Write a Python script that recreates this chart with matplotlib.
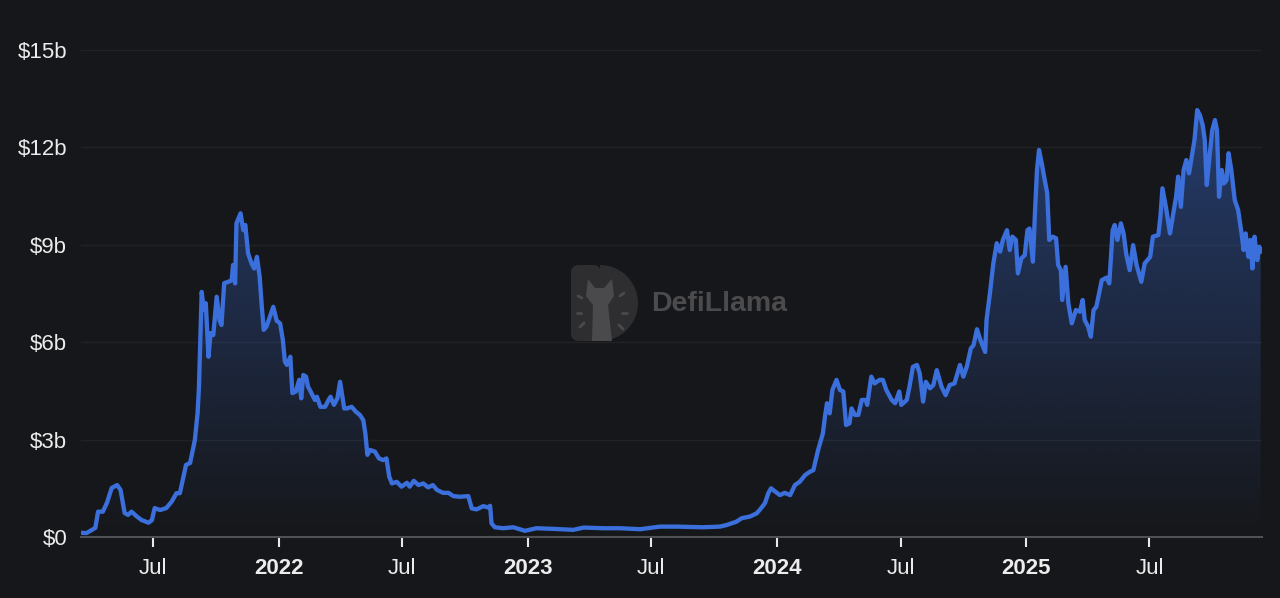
import numpy as np
import pandas as pd
import matplotlib
matplotlib.use("Agg")
import matplotlib.pyplot as plt
import matplotlib.dates as mdates
from matplotlib.patches import PathPatch, Polygon, FancyBboxPatch, Wedge

# --- data: days since 2021-03-18, value in $b ---
start_date = pd.Timestamp("2021-03-18")
days = [
    0, 7, 20, 24, 31, 37, 44, 52, 57, 63, 68, 73, 81, 88, 98, 103, 107, 115, 124, 132,
    139, 144, 153, 159, 166, 170, 172, 176, 179, 182, 186, 189, 193, 198, 202, 205, 209, 215, 220, 222,
    225, 227, 233, 237, 240, 244, 249, 253, 257, 261, 264, 267, 271, 276, 281, 286, 291, 295, 298, 301,
    306, 309, 314, 319, 322, 325, 329, 332, 337, 342, 345, 350, 357, 362, 365, 370, 375, 379, 383, 385,
    389, 396, 402, 408, 413, 416, 419, 423, 430, 436, 442, 447, 451, 455, 462, 469, 477, 481, 487, 494,
    501, 508, 515, 521, 530, 538, 545, 555, 567, 572, 579, 589, 596, 599, 601, 606, 618, 633, 650, 667,
    692, 721, 736, 765, 789, 819, 848, 872, 911, 936, 946, 960, 968, 980, 990, 995, 1002, 1007, 1011, 1017,
    1024, 1031, 1039, 1046, 1053, 1061, 1068, 1073, 1080, 1087, 1090, 1093, 1097, 1101, 1107, 1112, 1117, 1121, 1126, 1129,
    1134, 1139, 1144, 1150, 1152, 1158, 1163, 1170, 1175, 1180, 1188, 1193, 1199, 1202, 1210, 1214, 1219, 1225, 1229, 1234,
    1238, 1244, 1249, 1254, 1261, 1267, 1273, 1280, 1283, 1288, 1293, 1298, 1304, 1308, 1313, 1318, 1325, 1327, 1332, 1337,
    1342, 1347, 1351, 1357, 1361, 1365, 1370, 1373, 1378, 1383, 1387, 1390, 1395, 1398, 1401, 1404, 1408, 1411, 1416, 1419,
    1424, 1429, 1432, 1436, 1438, 1443, 1447, 1452, 1458, 1464, 1468, 1471, 1476, 1480, 1484, 1488, 1496, 1503, 1507, 1512,
    1515, 1519, 1524, 1528, 1532, 1537, 1542, 1547, 1554, 1559, 1567, 1571, 1579, 1582, 1585, 1590, 1596, 1601, 1605, 1608,
    1612, 1616, 1620, 1624, 1628, 1632, 1636, 1640, 1644, 1647, 1650, 1654, 1658, 1662, 1665, 1668, 1672, 1675, 1679, 1682,
    1686, 1691, 1696, 1701, 1704, 1707, 1711, 1714, 1717, 1720, 1724, 1727, 1729,
]
tvl_b = [
    0.13, 0.12, 0.28, 0.78, 0.78, 1.05, 1.51, 1.60, 1.45, 0.74, 0.68, 0.78, 0.63, 0.52, 0.44, 0.52, 0.89, 0.83, 0.89, 1.09,
    1.35, 1.35, 2.22, 2.28, 2.99, 3.82, 4.62, 7.55, 7.00, 7.20, 5.55, 6.28, 6.22, 7.40, 6.68, 6.53, 7.82, 7.86, 7.91, 8.38,
    7.81, 9.66, 9.97, 9.45, 9.61, 8.74, 8.43, 8.27, 8.63, 8.02, 7.14, 6.38, 6.48, 6.78, 7.09, 6.66, 6.58, 6.07, 5.40, 5.30,
    5.55, 4.43, 4.48, 4.84, 4.27, 4.99, 4.94, 4.63, 4.43, 4.22, 4.32, 4.01, 4.01, 4.22, 4.32, 4.07, 4.27, 4.78, 4.22, 3.96,
    3.96, 4.01, 3.86, 3.76, 3.60, 3.19, 2.53, 2.68, 2.63, 2.42, 2.37, 2.42, 1.86, 1.65, 1.70, 1.55, 1.67, 1.55, 1.73, 1.60,
    1.65, 1.53, 1.60, 1.45, 1.36, 1.36, 1.26, 1.24, 1.26, 0.88, 0.85, 0.95, 0.91, 0.96, 0.42, 0.30, 0.27, 0.30, 0.19, 0.27,
    0.25, 0.22, 0.29, 0.27, 0.27, 0.24, 0.32, 0.32, 0.30, 0.32, 0.37, 0.47, 0.58, 0.63, 0.73, 0.85, 1.04, 1.35, 1.50, 1.40,
    1.29, 1.36, 1.29, 1.60, 1.70, 1.91, 2.01, 2.06, 2.68, 3.19, 3.70, 4.12, 3.81, 4.53, 4.84, 4.53, 4.48, 3.45, 3.50, 3.96,
    3.76, 3.76, 4.22, 4.22, 4.07, 4.94, 4.73, 4.84, 4.84, 4.53, 4.22, 4.12, 4.48, 4.07, 4.22, 4.63, 5.24, 5.30, 5.04, 4.17,
    4.78, 4.58, 4.68, 5.14, 4.63, 4.37, 4.68, 4.73, 4.94, 5.30, 4.94, 5.24, 5.81, 5.91, 6.40, 6.07, 5.70, 6.68, 7.51, 8.43,
    9.05, 8.79, 9.15, 9.45, 8.84, 9.25, 9.15, 8.12, 8.58, 8.68, 9.45, 9.50, 8.48, 9.97, 11.30, 11.92, 11.51, 11.15, 10.59, 9.15,
    9.25, 9.20, 8.38, 8.22, 7.30, 8.32, 7.20, 6.58, 6.99, 6.94, 7.30, 6.68, 6.48, 6.17, 6.99, 7.09, 7.91, 7.99, 7.81, 9.45,
    9.61, 9.15, 9.66, 9.35, 8.70, 8.22, 8.99, 8.38, 7.86, 8.43, 8.63, 9.25, 9.30, 9.86, 10.74, 10.17, 9.35, 9.97, 10.48, 11.10,
    10.17, 11.30, 11.61, 11.20, 11.71, 12.23, 13.15, 12.99, 12.69, 12.23, 10.84, 11.71, 12.53, 12.84, 12.53, 10.48, 11.30, 10.89, 10.99, 11.82,
    11.30, 10.38, 10.07, 9.35, 8.84, 9.35, 8.63, 9.15, 8.27, 9.25, 8.53, 8.94, 8.79,
]
y_ticks = [0, 3, 6, 9, 12, 15]
x_ticks = ["2021-07-01", "2022-01-01", "2022-07-01", "2023-01-01", "2023-07-01",
           "2024-01-01", "2024-07-01", "2025-01-01", "2025-07-01"]
x_labels = ["Jul", "2022", "Jul", "2023", "Jul", "2024", "Jul", "2025", "Jul"]

dates = start_date + pd.to_timedelta(days, unit="D")

bg = "#16171a"
line_color = "#3b6fdc"
plt.rcParams["font.family"] = ["Liberation Sans", "DejaVu Sans"]

fig = plt.figure(figsize=(12.8, 5.98), dpi=100, facecolor=bg)

# watermark layer (pixel coords)
wm = fig.add_axes([0, 0, 1, 1], zorder=0)
wm.set_xlim(0, 1280)
wm.set_ylim(598, 0)
wm.axis("off")
wm.patch.set_alpha(0)
logo = "#2e2e31"
llama = "#4a4a4d"
wm.add_patch(FancyBboxPatch((571, 265), 30, 76, boxstyle="round,pad=0,rounding_size=8",
                            fc=logo, ec="none"))
wm.add_patch(Wedge((600, 303), 38, -90, 90, fc=logo, ec="none"))
wm.add_patch(Polygon([(592, 341), (593, 305), (586, 296), (588, 279), (595, 288), (604, 288),
                      (612, 279), (614, 296), (608, 305), (612, 341)], closed=True,
                     fc=llama, ec="none"))
for x0, y0, x1, y1 in [(578, 296, 582, 298), (577, 313, 581, 313), (580, 327, 584, 323),
                       (620, 296, 624, 293), (622, 313, 627, 313), (619, 325, 623, 329)]:
    wm.plot([x0, x1], [y0, y1], color=llama, lw=2, solid_capstyle="round")
wm.text(651, 304, "DefiLlama", fontsize=20.5, fontweight="bold", color="#4b4b4e",
        ha="left", va="center")

ax = fig.add_axes([81 / 1280, 61 / 598, 1181 / 1280, 487 / 598], zorder=1)
ax.set_facecolor("none")

xnum = mdates.date2num(dates)
ax.plot(dates, tvl_b, color=line_color, lw=3.1, solid_joinstyle="round", zorder=3)

# gradient fill under the line
poly = ax.fill_between(dates, tvl_b, 0, color="none", lw=0)
clip = PathPatch(poly.get_paths()[0], transform=ax.transData, fc="none", ec="none")
ax.add_patch(clip)
grad = np.zeros((256, 1, 4))
grad[..., :3] = matplotlib.colors.to_rgb(line_color)
grad[..., 3] = np.linspace(0.0, 0.42, 256)[:, None]
im = ax.imshow(grad, extent=[xnum[0], xnum[-1], 0, max(tvl_b)], origin="lower",
               aspect="auto", zorder=2)
im.set_clip_path(clip)

ax.set_xlim(start_date - pd.Timedelta(days=1), start_date + pd.Timedelta(days=1731))
ax.set_ylim(0, 15)

ax.set_yticks(y_ticks)
ax.set_yticklabels([f"${v}b" if v else "$0" for v in y_ticks])
ax.set_xticks(pd.to_datetime(x_ticks))
ax.set_xticklabels(x_labels)
for lab in ax.get_xticklabels():
    if lab.get_text() != "Jul":
        lab.set_fontweight("bold")
        lab.set_color("white")

ax.tick_params(axis="y", length=0, pad=10, labelsize=16, labelcolor="#ececec")
ax.tick_params(axis="x", length=7, width=1.5, color="#e8e8e8", pad=8,
               labelsize=16, labelcolor="#ececec")
ax.grid(axis="y", color="#212226", lw=1)
ax.grid(axis="x", visible=False)
for s in ["top", "right", "left"]:
    ax.spines[s].set_visible(False)
ax.spines["bottom"].set_color("#505055")
ax.spines["bottom"].set_linewidth(1.5)
ax.set_axisbelow(True)

fig.savefig("out.png", dpi=100, facecolor=bg)
